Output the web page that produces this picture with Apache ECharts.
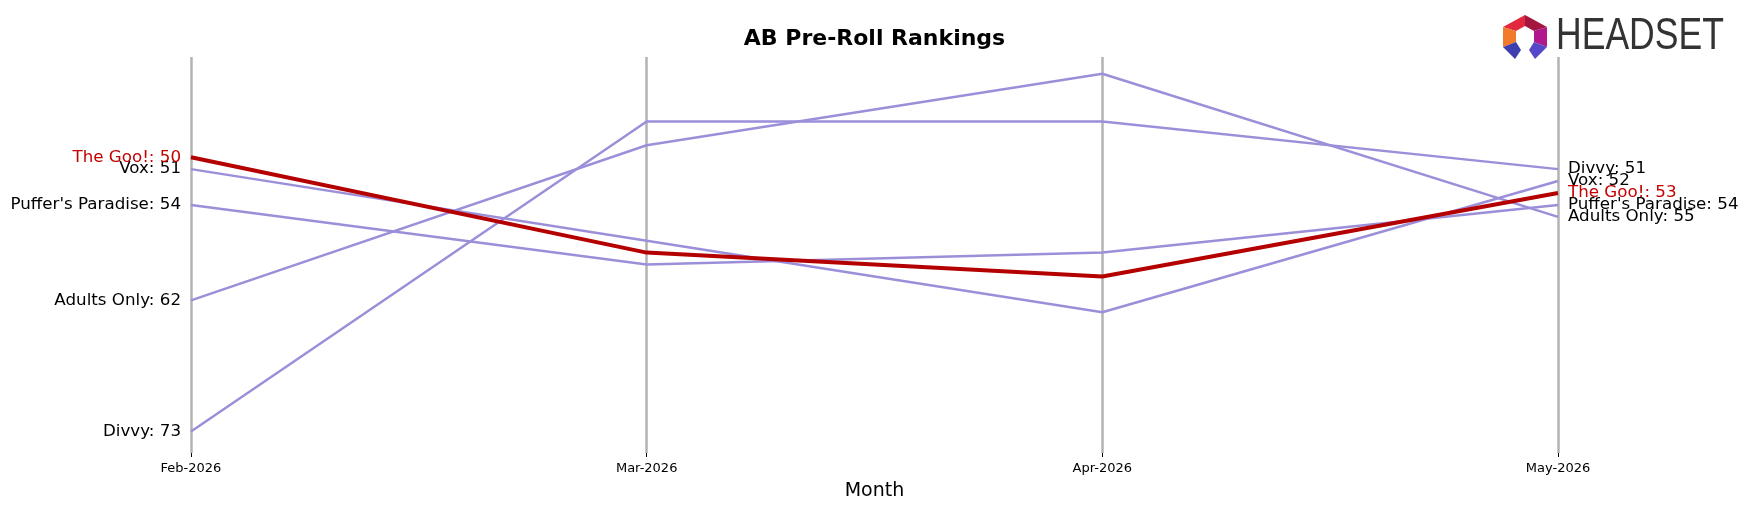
<!DOCTYPE html>
<html>
<head>
<meta charset="utf-8">
<title>AB Pre-Roll Rankings</title>
<script src="https://cdn.jsdelivr.net/npm/echarts@6/dist/echarts.min.js"></script>
<style>
  html, body { margin: 0; padding: 0; background: #fff; }
  #chart { width: 1749px; height: 507px; }
</style>
</head>
<body>
<div id="chart"></div>
<script>
// months on the x axis
var months = ['Feb-2026', 'Mar-2026', 'Apr-2026', 'May-2026'];

// ranks per brand (lower is better)
var divvy = [73, 47, 47, 51];
var adultsOnly = [62, 49, 43, 55];
var vox = [51, 57, 63, 52];
var puffersParadise = [54, 59, 58, 54];
var theGoo = [50, 58, 60, 53];

var brands = [
  { name: 'Divvy', ranks: divvy, focus: false },
  { name: 'Adults Only', ranks: adultsOnly, focus: false },
  { name: 'Vox', ranks: vox, focus: false },
  { name: "Puffer's Paradise", ranks: puffersParadise, focus: false },
  { name: 'The Goo!', ranks: theGoo, focus: true }
];

var FONT = 'DejaVu Sans';
var PURPLE = '#9c8fda';
var RED = '#b50000';
var RED_TEXT = '#c40000';

// build series, label only first and last point
function makeSeries(b) {
  var last = b.ranks.length - 1;
  var txtColor = b.focus ? RED_TEXT : '#000';
  var data = b.ranks.map(function (v, i) {
    var item = { value: v };
    if (i === 0 || i === last) {
      item.label = {
        show: true,
        position: i === 0 ? 'left' : 'right',
        distance: 10,
        offset: [0, 2],
        formatter: b.name + ': ' + v,
        color: txtColor,
        fontSize: 16.7,
        fontFamily: FONT
      };
    }
    return item;
  });
  return {
    name: b.name,
    type: 'line',
    data: data,
    symbol: 'circle',
    symbolSize: 0,
    showSymbol: true,
    z: b.focus ? 5 : 3,
    lineStyle: {
      color: b.focus ? RED : PURPLE,
      width: b.focus ? 4 : 2.5
    },
    itemStyle: { color: b.focus ? RED : PURPLE },
    label: { show: false },
    labelLayout: { hideOverlap: false },
    emphasis: { disabled: true },
    animation: false
  };
}

var chart = echarts.init(document.getElementById('chart'));

var option = {
  backgroundColor: '#fff',
  title: {
    text: 'AB Pre-Roll Rankings',
    left: 'center',
    top: 23,
    textStyle: { fontFamily: FONT, fontSize: 22, fontWeight: 'bold', color: '#000' }
  },
  grid: { left: 191, right: 191, top: 57, bottom: 54 },
  xAxis: {
    type: 'category',
    data: months,
    boundaryGap: false,
    axisLine: { show: false },
    axisTick: { show: true, length: 4, lineStyle: { color: '#000', width: 1 } },
    axisLabel: { color: '#000', fontSize: 13, fontFamily: FONT, margin: 9 },
    splitLine: { show: true, interval: 0, lineStyle: { color: '#b3b3b3', width: 2.5 } },
    name: 'Month',
    nameLocation: 'middle',
    nameGap: 29,
    nameTextStyle: { color: '#000', fontSize: 19, fontFamily: FONT }
  },
  yAxis: {
    type: 'value',
    inverse: true,
    min: 41.6,
    max: 74.8,
    show: false,
    splitLine: { show: false }
  },
  series: brands.filter(function (b) { return !b.focus; }).map(makeSeries)
    .concat(brands.filter(function (b) { return b.focus; }).map(makeSeries)),
  graphic: [
    // headset logo mark
    { type: 'polygon', shape: { points: [[1503, 27], [1525, 15], [1525, 26], [1516, 31]] }, style: { fill: '#e1283f' } },
    { type: 'polygon', shape: { points: [[1525, 15], [1547, 27], [1534, 31], [1525, 26]] }, style: { fill: '#a3163e' } },
    { type: 'polygon', shape: { points: [[1503, 27], [1516, 31], [1516, 42], [1503, 47]] }, style: { fill: '#f27b2b' } },
    { type: 'polygon', shape: { points: [[1547, 27], [1547, 47], [1534, 42], [1534, 31]] }, style: { fill: '#b0188c' } },
    { type: 'polygon', shape: { points: [[1503, 47], [1516, 42], [1521, 50], [1515, 59]] }, style: { fill: '#3d3fae' } },
    { type: 'polygon', shape: { points: [[1547, 47], [1534, 42], [1529, 50], [1535, 59]] }, style: { fill: '#5447c8' } },
    {
      type: 'text',
      x: 1556,
      y: 14,
      scaleX: 0.79,
      style: {
        text: 'HEADSET',
        fill: '#333333',
        font: '45px "Liberation Sans", sans-serif'
      }
    }
  ]
};

chart.setOption(option);
</script>
</body>
</html>
